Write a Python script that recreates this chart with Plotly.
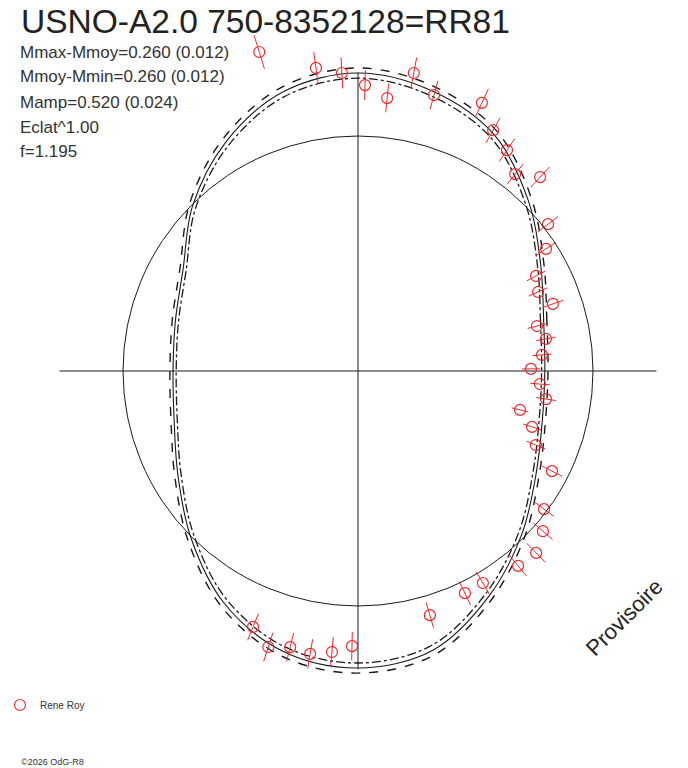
"""
Polar light curve of USNO-A2.0 750-8352128 (RR81) drawn with Plotly.
"""

import numpy as np
import plotly.graph_objects as go

# fitted curve: polar angle (deg) and radius (mean-magnitude circle = 1)
fit_angle = [0, 15, 30, 45, 60, 75, 90, 105, 120, 135, 150, 165,
             180, 195, 210, 225, 240, 255, 270, 285, 300, 315, 330, 345]
fit_radius = [0.795, 0.818, 0.898, 1.025, 1.16, 1.232, 1.268, 1.23,
              1.125, 0.995, 0.86, 0.805, 0.787, 0.81, 0.885, 1.005,
              1.14, 1.235, 1.264, 1.23, 1.11, 0.985, 0.875, 0.812]
fit_spread = 0.017  # +/- curves, relative

# observations
obs_angle = [107.2, 97.9, 93.1, 88.6, 83.9, 79.4, 74.6, 65.2, 60.7, 56.0,
             51.4, 46.8, 37.7, 33.0, 28.1, 23.7, 19.0, 14.1, 9.7, 5.0,
             0.7, 355.9, 351.5, 346.5, 342.2, 337.4, 332.7, 323.4, 319.1,
             314.4, 309.4, 300.5, 295.7, 286.4, 268.75, 264.7, 260.4,
             256.2, 252.0, 247.7]
obs_radius = [1.421, 1.302, 1.270, 1.217, 1.168, 1.290, 1.218, 1.257,
              1.175, 1.134, 1.072, 1.132, 1.022, 0.954, 0.859, 0.837,
              0.877, 0.785, 0.811, 0.786, 0.736, 0.776, 0.809, 0.709,
              0.778, 0.820, 0.929, 0.986, 1.041, 1.083, 1.073, 1.047,
              1.049, 1.083, 1.171, 1.201, 1.221, 1.210, 1.235, 1.177]
obs_err = 0.052  # relative radial error

title = 'USNO-A2.0 750-8352128=RR81'
info_lines = ['Mmax-Mmoy=0.260 (0.012)',
              'Mmoy-Mmin=0.260 (0.012)',
              'Mamp=0.520 (0.024)',
              'Eclat^1.00',
              'f=1.195']
observer = 'Rene Roy'

W, H = 688, 768
CX, CY, SCALE = 358, 371, 235
AXIS_EXT = 1.27
RED = '#ec2a2e'
INK = '#1a1a1a'


def to_xy(angle, radius):
    th = np.radians(np.asarray(angle, dtype=float))
    r = np.asarray(radius, dtype=float)
    return r * np.cos(th), r * np.sin(th)


fig = go.Figure()

# fitted curve and its +/- envelope
for k, dash, width in [(1 + fit_spread, 'dash', 1.4),
                       (1.0, 'solid', 1.1),
                       (1 - fit_spread, 'dashdot', 1.3)]:
    x, y = to_xy(fit_angle + fit_angle[:1],
                 [r * k for r in fit_radius + fit_radius[:1]])
    fig.add_trace(go.Scatter(
        x=x, y=y, mode='lines',
        line={'color': INK, 'width': width, 'dash': dash,
              'shape': 'spline', 'smoothing': 1.0},
        showlegend=False, hoverinfo='skip'
    ))

# axes through the centre
fig.add_trace(go.Scatter(
    x=[-AXIS_EXT, AXIS_EXT, None, 0, 0],
    y=[0, 0, None, AXIS_EXT, -AXIS_EXT],
    mode='lines', line={'color': INK, 'width': 1},
    showlegend=False, hoverinfo='skip'
))

# radial error bars
ex, ey = [], []
for a, r in zip(obs_angle, obs_radius):
    x, y = to_xy([a, a], [r * (1 - obs_err), r * (1 + obs_err)])
    ex += list(x) + [None]
    ey += list(y) + [None]
fig.add_trace(go.Scatter(
    x=ex, y=ey, mode='lines', line={'color': RED, 'width': 1},
    showlegend=False, hoverinfo='skip'
))

ox, oy = to_xy(obs_angle, obs_radius)
fig.add_trace(go.Scatter(
    x=ox, y=oy, mode='markers', name=observer,
    marker={'symbol': 'circle-open', 'size': 11, 'color': RED,
            'line': {'width': 1.2, 'color': RED}}
))

# mean magnitude circle
fig.add_shape(type='circle', xref='x', yref='y', x0=-1, y0=-1, x1=1, y1=1,
              line={'color': INK, 'width': 1})


def px_x(p):
    return p / W


def px_y(p):
    return 1 - p / H


fig.add_annotation(x=px_x(19), y=px_y(21), xref='paper', yref='paper',
                   text=title, showarrow=False, xanchor='left',
                   yanchor='middle',
                   font={'family': 'Liberation Sans', 'size': 33.5,
                         'color': '#222222'})
for i, line in enumerate(info_lines):
    fig.add_annotation(x=px_x(18), y=px_y(52 + 25 * i), xref='paper',
                       yref='paper', text=line, showarrow=False,
                       xanchor='left', yanchor='middle',
                       font={'family': 'Liberation Sans', 'size': 17,
                             'color': '#333333'})
fig.add_annotation(x=px_x(624), y=px_y(617), xref='paper', yref='paper',
                   text='Provisoire', showarrow=False, textangle=-45,
                   xanchor='center', yanchor='middle',
                   font={'family': 'Liberation Sans', 'size': 22,
                         'color': '#222222'})
fig.add_annotation(x=px_x(19), y=px_y(762), xref='paper', yref='paper',
                   text='\u00a92026 OdG-R8', showarrow=False,
                   xanchor='left', yanchor='middle',
                   font={'family': 'Liberation Sans', 'size': 9,
                         'color': '#333333'})

fig.update_layout(
    width=W, height=H,
    margin={'l': 0, 'r': 0, 't': 0, 'b': 0},
    plot_bgcolor='#FFFFFF', paper_bgcolor='#FFFFFF',
    showlegend=True,
    legend={'x': 0, 'y': px_y(705), 'xanchor': 'left',
            'yanchor': 'middle', 'bgcolor': 'rgba(0,0,0,0)',
            'font': {'family': 'Liberation Sans', 'size': 10,
                     'color': '#333333'}},
)
fig.update_xaxes(range=[-CX / SCALE, (W - CX) / SCALE], visible=False)
fig.update_yaxes(range=[-(H - CY) / SCALE, CY / SCALE], visible=False)

fig.write_html('out.html', config={'displayModeBar': False},
               post_script="document.body.style.margin = '0';")
